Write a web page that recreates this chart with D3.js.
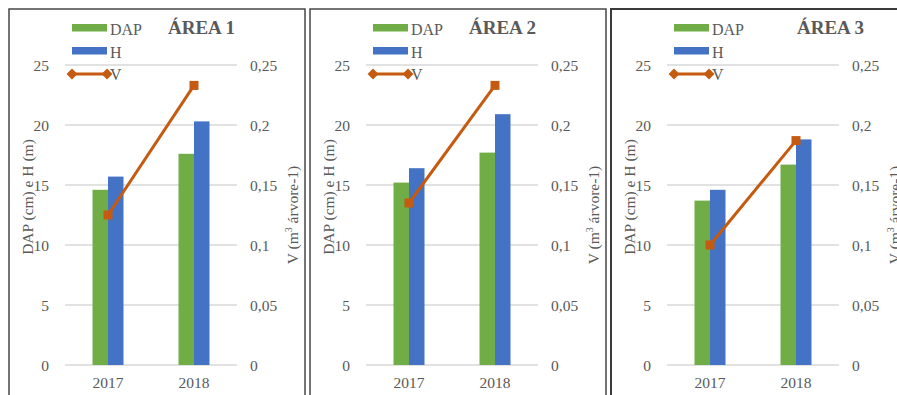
<!DOCTYPE html>
<html>
<head>
<meta charset="utf-8">
<script src="https://cdn.jsdelivr.net/npm/d3@7"></script>
<style>
  html, body { margin: 0; padding: 0; background: #fff; }
  svg { display: block; }
  svg text { font-family: "Liberation Serif", "Times New Roman", serif; fill: #595959; }
</style>
</head>
<body>
<svg id="chart" width="897" height="395"></svg>
<script>
// Growth of DAP, H and volume per area
const years = ["2017", "2018"];
const areas = ["ÁREA 1", "ÁREA 2", "ÁREA 3"];
const dapValues = [[14.6, 17.6], [15.2, 17.7], [13.7, 16.7]];
const hValues = [[15.7, 20.3], [16.4, 20.9], [14.6, 18.8]];
const volValues = [[0.125, 0.233], [0.135, 0.233], [0.1, 0.187]];
const leftTicks = [0, 5, 10, 15, 20, 25];
const rightTicks = [0, 0.05, 0.1, 0.15, 0.2, 0.25];
const seriesNames = ["DAP", "H", "V"];

const colors = { dap: "#70AD47", h: "#4472C4", v: "#C55A11", grid: "#D9D9D9", border: "#3a3a3a" };
const serif = "'Liberation Serif', 'Times New Roman', serif";

// panel frames
const panelLeft = [9, 310, 611];
const panelWidth = 296;
const titleOffset = [159, 159, 186];

const svg = d3.select("#chart");
const fmtRight = d => d3.format("~g")(d).replace(".", ",");

function styleAxis(ax, dy) {
  ax.attr("font-family", serif).attr("font-size", 15.5);
  ax.select(".domain").remove();
  ax.selectAll("text").attr("fill", "#595959").attr("dy", dy);
}

areas.forEach((area, i) => {
  const bx = panelLeft[i];
  const g = svg.append("g");

  // frame
  g.append("rect")
    .attr("x", bx).attr("y", 9)
    .attr("width", panelWidth).attr("height", 400)
    .attr("fill", "none").attr("stroke", colors.border).attr("stroke-width", i === 2 ? 2 : 1.4);

  const x0 = bx + 56, x1 = x0 + 172;
  const x = d3.scaleBand().domain(years).range([x0, x1]);
  const yL = d3.scaleLinear().domain([0, 25]).range([365, 65]);
  const yR = d3.scaleLinear().domain([0, 0.25]).range([365, 65]);
  const bw = 15.5;

  // gridlines
  g.selectAll(".grid").data(leftTicks).join("line")
    .attr("x1", x0).attr("x2", x1)
    .attr("y1", d => yL(d)).attr("y2", d => yL(d))
    .attr("stroke", colors.grid).attr("stroke-width", 1.3);

  // left axis
  const axL = g.append("g").attr("transform", `translate(${x0 - 16},0)`)
    .call(d3.axisLeft(yL).tickValues(leftTicks).tickSize(0).tickPadding(0));
  styleAxis(axL, "0.35em");

  // right axis
  const axR = g.append("g").attr("transform", `translate(${x1 + 13},0)`)
    .call(d3.axisRight(yR).tickValues(rightTicks).tickSize(0).tickPadding(0).tickFormat(fmtRight));
  styleAxis(axR, "0.35em");

  // bottom axis
  const axB = g.append("g").attr("transform", `translate(0,377)`)
    .call(d3.axisBottom(x).tickSize(0).tickPadding(0));
  styleAxis(axB, "0.71em");

  // bars
  const cx = d => x(d) + x.bandwidth() / 2;
  g.selectAll(".dap").data(years).join("rect")
    .attr("x", d => cx(d) - bw).attr("width", bw)
    .attr("y", (d, j) => yL(dapValues[i][j])).attr("height", (d, j) => yL(0) - yL(dapValues[i][j]))
    .attr("fill", colors.dap);
  g.selectAll(".h").data(years).join("rect")
    .attr("x", d => cx(d)).attr("width", bw)
    .attr("y", (d, j) => yL(hValues[i][j])).attr("height", (d, j) => yL(0) - yL(hValues[i][j]))
    .attr("fill", colors.h);

  // volume line
  const line = d3.line().x((d, j) => cx(years[j])).y(d => yR(d));
  g.append("path").datum(volValues[i]).attr("d", line)
    .attr("fill", "none").attr("stroke", colors.v).attr("stroke-width", 3);
  g.selectAll(".vm").data(volValues[i]).join("rect")
    .attr("x", (d, j) => cx(years[j]) - 4.5).attr("y", d => yR(d) - 4.5)
    .attr("width", 9).attr("height", 9).attr("fill", colors.v);

  // axis titles
  g.append("text")
    .attr("transform", `translate(${bx + 24},197) rotate(-90)`)
    .attr("text-anchor", "middle").attr("font-size", 15.5)
    .text("DAP (cm) e H (m)");
  const rt = g.append("text")
    .attr("transform", `translate(${bx + 289},215) rotate(-90)`)
    .attr("text-anchor", "middle").attr("font-size", 15.5);
  rt.append("tspan").text("V (m");
  rt.append("tspan").attr("font-size", 10).attr("dy", -6).text("3");
  rt.append("tspan").attr("dy", 6).text(" árvore-1)");

  // legend
  const lx = bx + 63, lw = 35;
  g.append("rect").attr("x", lx).attr("y", 24).attr("width", lw).attr("height", 7.5).attr("fill", colors.dap);
  g.append("rect").attr("x", lx).attr("y", 47).attr("width", lw).attr("height", 7.5).attr("fill", colors.h);
  g.append("line").attr("x1", lx).attr("x2", lx + lw).attr("y1", 74).attr("y2", 74)
    .attr("stroke", colors.v).attr("stroke-width", 3);
  [lx, lx + lw].forEach(px => {
    g.append("path").attr("d", d3.symbol(d3.symbolDiamond2, 75)())
      .attr("transform", `translate(${px},74)`).attr("fill", colors.v);
  });
  g.append("text").attr("x", lx + 38).attr("y", 35).attr("font-size", 16).text(seriesNames[0]);
  g.append("text").attr("x", lx + 38).attr("y", 58).attr("font-size", 16).text(seriesNames[1]);
  g.append("text").attr("x", lx + 38).attr("y", 80).attr("font-size", 16).text(seriesNames[2]);

  // title
  g.append("text").attr("x", bx + titleOffset[i]).attr("y", 34)
    .attr("font-size", 19).attr("font-weight", "bold").attr("fill", "#595959")
    .text(area);
});
</script>
</body>
</html>
